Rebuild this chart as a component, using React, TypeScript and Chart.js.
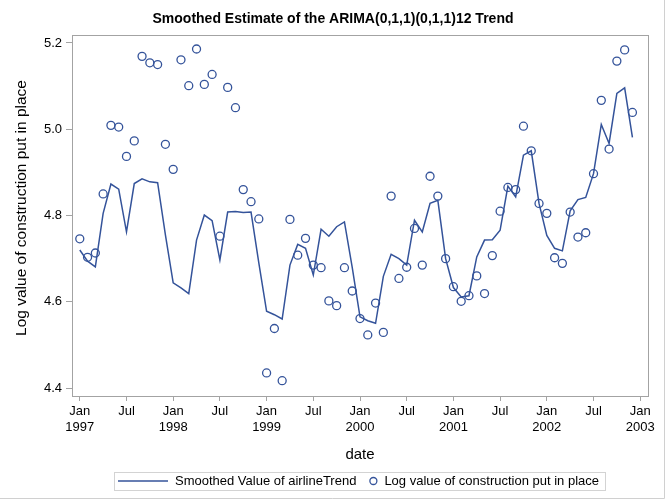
import React, { useEffect, useRef } from "react";
import { Chart, registerables } from "chart.js";

Chart.register(...registerables);

// Monthly series, Jan 1997 .. Dec 2002 (index 0 = Jan 1997)
const trendValues: number[] = [
  4.720, 4.694, 4.681, 4.805, 4.873, 4.861, 4.762, 4.874, 4.885, 4.878, 4.876, 4.755,
  4.644, 4.632, 4.619, 4.743, 4.801, 4.788, 4.697, 4.808, 4.809, 4.807, 4.808, 4.690,
  4.578, 4.570, 4.560, 4.685, 4.733, 4.724, 4.662, 4.768, 4.752, 4.774, 4.785, 4.680,
  4.565, 4.556, 4.550, 4.659, 4.710, 4.700, 4.685, 4.789, 4.762, 4.828, 4.835, 4.700,
  4.633, 4.611, 4.614, 4.704, 4.743, 4.744, 4.766, 4.868, 4.843, 4.940, 4.950, 4.828,
  4.754, 4.724, 4.718, 4.811, 4.837, 4.842, 4.897, 5.011, 4.967, 5.083, 5.096, 4.981,
];
const logValues: number[] = [
  4.746, 4.703, 4.713, 4.850, 5.009, 5.005, 4.937, 4.973, 5.169, 5.154, 5.150, 4.965,
  4.907, 5.161, 5.101, 5.186, 5.104, 5.127, 4.752, 5.097, 5.050, 4.860, 4.832, 4.792,
  4.435, 4.538, 4.417, 4.791, 4.708, 4.747, 4.685, 4.679, 4.602, 4.591, 4.679, 4.625,
  4.561, 4.523, 4.597, 4.529, 4.845, 4.654, 4.680, 4.770, 4.685, 4.891, 4.845, 4.700,
  4.635, 4.601, 4.614, 4.660, 4.619, 4.707, 4.810, 4.865, 4.860, 5.007, 4.950, 4.828,
  4.805, 4.702, 4.689, 4.808, 4.750, 4.760, 4.897, 5.067, 4.954, 5.158, 5.184, 5.039,
];
const xTickValues: number[] = [0, 6, 12, 18, 24, 30, 36, 42, 48, 54, 60, 66, 72];
const xTickLabels: (string | string[])[] = [
  ["Jan", "1997"], "Jul", ["Jan", "1998"], "Jul", ["Jan", "1999"], "Jul", ["Jan", "2000"],
  "Jul", ["Jan", "2001"], "Jul", ["Jan", "2002"], "Jul", ["Jan", "2003"],
];
const yTickValues: number[] = [4.4, 4.6, 4.8, 5.0, 5.2];

const titleText = "Smoothed Estimate of the ARIMA(0,1,1)(0,1,1)12 Trend";
const xTitle = "date";
const yTitle = "Log value of construction put in place";
const lineLabel = "Smoothed Value of airlineTrend";
const pointLabel = "Log value of construction put in place";

const BLUE = "#34539a";
const FRAME = "#a3a3a3";
const FONT = "'Liberation Sans', Arial, sans-serif";

const decorPlugin = {
  id: "decor",
  afterDraw(chart: any) {
    const { ctx, chartArea } = chart;
    ctx.save();
    // plot frame
    ctx.strokeStyle = FRAME;
    ctx.lineWidth = 1;
    ctx.strokeRect(
      Math.round(chartArea.left) + 0.5,
      Math.round(chartArea.top) + 0.5,
      Math.round(chartArea.right - chartArea.left),
      Math.round(chartArea.bottom - chartArea.top)
    );
    // outer image border (right & bottom)
    ctx.strokeStyle = "#d0d0d0";
    ctx.beginPath();
    ctx.moveTo(chart.width - 1.5, 0);
    ctx.lineTo(chart.width - 1.5, chart.height - 1.5);
    ctx.lineTo(0, chart.height - 1.5);
    ctx.stroke();

    // main title, centred on the whole image
    ctx.fillStyle = "#000";
    ctx.textAlign = "center";
    ctx.textBaseline = "middle";
    ctx.font = `bold 14px ${FONT}`;
    ctx.fillText(titleText, chart.width / 2, 19);

    // y axis title
    ctx.save();
    ctx.translate(22, 208);
    ctx.rotate(-Math.PI / 2);
    ctx.font = `15.5px ${FONT}`;
    ctx.fillText(yTitle, 0, 0);
    ctx.restore();

    // legend
    ctx.font = `13px ${FONT}`;
    const w1 = ctx.measureText(lineLabel).width;
    const w2 = ctx.measureText(pointLabel).width;
    const padL = 4, lineW = 50, gap1 = 7, gapItems = 13, circD = 8, gap2 = 7, padR = 6;
    const total = padL + lineW + gap1 + w1 + gapItems + circD + gap2 + w2 + padR;
    const cx = (chartArea.left + chartArea.right) / 2;
    const x0 = Math.round(cx - total / 2);
    const yTop = 472, h = 18;
    const yMid = yTop + h / 2;
    ctx.strokeStyle = "#d3d3d3";
    ctx.lineWidth = 1;
    ctx.strokeRect(x0 + 0.5, yTop + 0.5, Math.round(total), h);
    let x = x0 + padL;
    ctx.strokeStyle = BLUE;
    ctx.lineWidth = 1.5;
    ctx.beginPath();
    ctx.moveTo(x, yMid);
    ctx.lineTo(x + lineW, yMid);
    ctx.stroke();
    x += lineW + gap1;
    ctx.fillStyle = "#000";
    ctx.textBaseline = "middle";
    ctx.textAlign = "left";
    ctx.fillText(lineLabel, x, yMid + 0.5);
    x += w1 + gapItems;
    ctx.beginPath();
    ctx.arc(x + circD / 2, yMid, circD / 2 - 0.5, 0, Math.PI * 2);
    ctx.lineWidth = 1.3;
    ctx.stroke();
    x += circD + gap2;
    ctx.fillText(pointLabel, x, yMid + 0.5);
    ctx.restore();
  },
};

export default function App() {
  const ref = useRef<HTMLCanvasElement | null>(null);

  useEffect(() => {
    document.body.style.margin = "0";
    if (!ref.current) return;
    const lineData = trendValues.map((v, i) => ({ x: i, y: v }));
    const pointData = logValues.map((v, i) => ({ x: i, y: v }));
    const chart = new Chart(ref.current, {
      type: "line",
      data: {
        datasets: [
          {
            label: lineLabel,
            data: lineData,
            borderColor: BLUE,
            borderWidth: 1.5,
            pointRadius: 0,
            fill: false,
            tension: 0,
          },
          {
            label: pointLabel,
            data: pointData,
            showLine: false,
            borderColor: BLUE,
            backgroundColor: "rgba(0,0,0,0)",
            pointBorderColor: BLUE,
            pointBackgroundColor: "rgba(0,0,0,0)",
            pointBorderWidth: 1.3,
            pointRadius: 4,
            pointStyle: "circle",
          },
        ],
      },
      options: {
        animation: false,
        responsive: false,
        layout: { padding: { top: 35, left: 0, right: 18, bottom: 36 } },
        plugins: {
          legend: { display: false },
          tooltip: { enabled: false },
          title: { display: false },
        },
        scales: {
          x: {
            type: "linear",
            min: -1,
            max: 73,
            afterBuildTicks(scale: any) {
              scale.ticks = xTickValues.map((v) => ({ value: v }));
            },
            afterFit(scale: any) {
              scale.height = 68;
            },
            ticks: {
              autoSkip: false,
              maxRotation: 0,
              minRotation: 0,
              padding: 3,
              color: "#000",
              font: { family: FONT, size: 13, lineHeight: 1.2 },
              callback: (_v: any, idx: number) => xTickLabels[idx],
            },
            grid: {
              display: true,
              drawOnChartArea: false,
              drawTicks: true,
              tickLength: 5,
              color: FRAME,
            },
            border: { display: false },
            title: {
              display: true,
              text: xTitle,
              color: "#000",
              font: { family: FONT, size: 15, lineHeight: 1.2 },
              padding: { top: 0, bottom: 0 },
            },
          },
          y: {
            type: "linear",
            min: 4.3815,
            max: 5.2185,
            afterBuildTicks(scale: any) {
              scale.ticks = yTickValues.map((v) => ({ value: v }));
            },
            afterFit(scale: any) {
              scale.width = 72;
            },
            ticks: {
              padding: 4,
              color: "#000",
              font: { family: FONT, size: 13 },
              callback: (v: any) => Number(v).toFixed(1),
            },
            grid: {
              display: true,
              drawOnChartArea: false,
              drawTicks: true,
              tickLength: 6,
              color: FRAME,
            },
            border: { display: false },
            title: { display: false },
          },
        },
      },
      plugins: [decorPlugin],
    });
    return () => chart.destroy();
  }, []);

  return (
    <div style={{ width: 666, height: 500 }}>
      <canvas ref={ref} width={666} height={500} style={{ display: "block" }} />
    </div>
  );
}
